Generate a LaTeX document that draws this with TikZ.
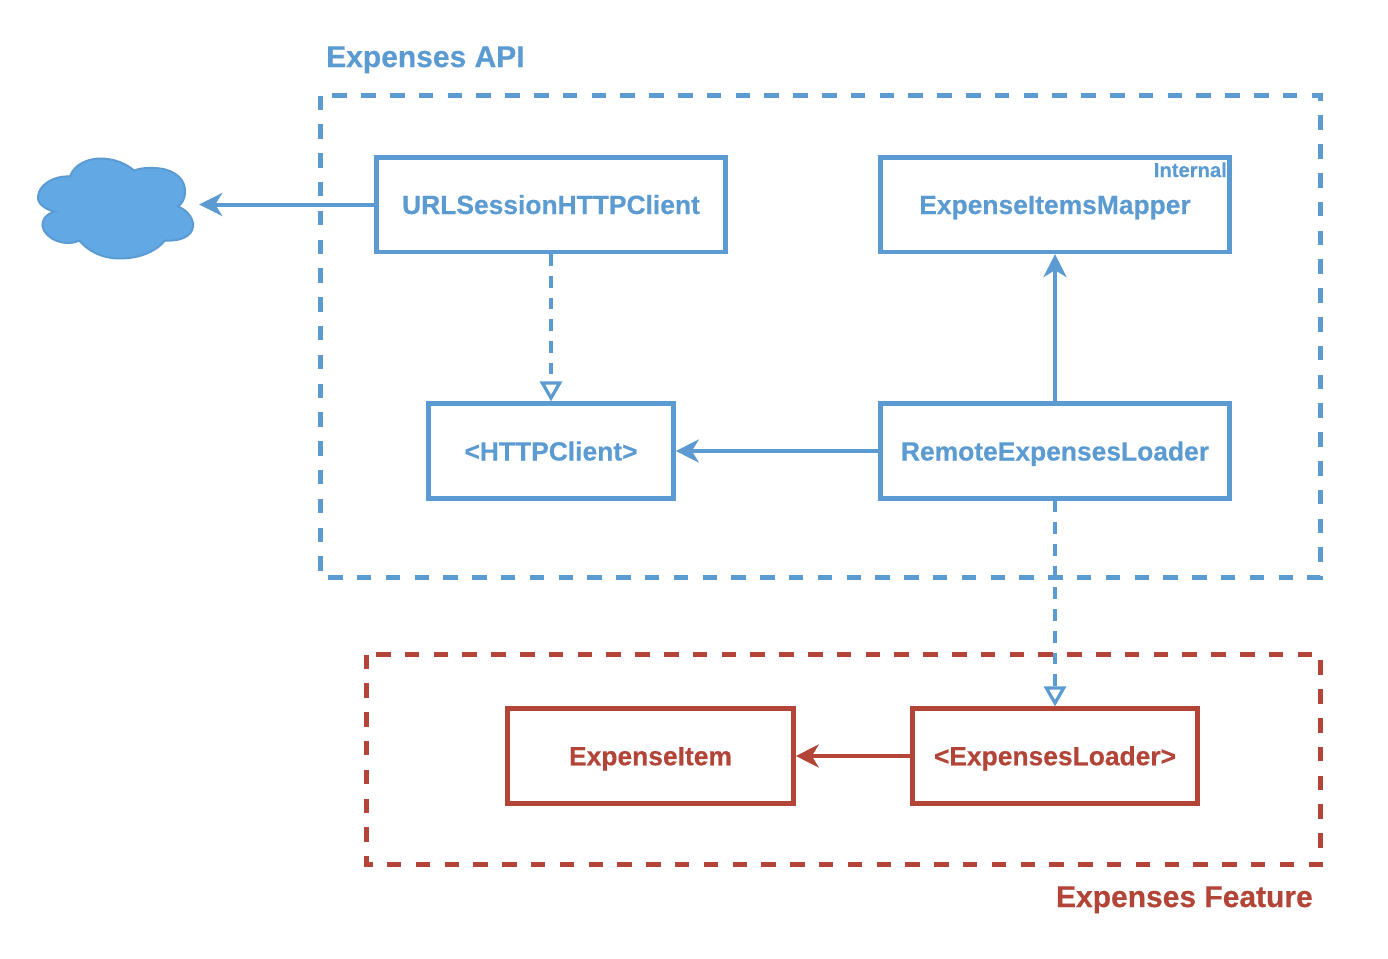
\documentclass[tikz,border=0pt]{standalone}
\usepackage{fontspec}
\setmainfont[BoldFeatures={FakeBold=0.4}]{Liberation Sans}
\usetikzlibrary{arrows.meta}
\definecolor{bl}{HTML}{5B9BD1}
\definecolor{rd}{HTML}{B34538}
\definecolor{cl}{HTML}{62A8E5}
\tikzset{
  x=1pt,y=-1pt,
  boxb/.style={draw=bl,line width=4.6pt,text=bl,font=\bfseries\fontsize{26.4}{30}\selectfont,inner sep=0pt,minimum height=94.6pt,text height=19pt,text depth=0pt},
  boxr/.style={draw=rd,line width=4.6pt,text=rd,font=\bfseries\fontsize{26.4}{30}\selectfont,inner sep=0pt,minimum height=94.6pt,text height=18.5pt,text depth=0pt},
  frameb/.style={draw=bl,line width=4.6pt,dash pattern=on 14.5pt off 14.3pt},
  framer/.style={draw=rd,line width=4.6pt,dash pattern=on 14.5pt off 14.3pt},
  solidb/.style={draw=bl,line width=4pt,-{Stealth[length=23pt,width=23pt,inset=7pt]}},
  solidr/.style={draw=rd,line width=4pt,-{Stealth[length=23pt,width=23pt,inset=7pt]}},
  realize/.style={draw=bl,line width=4pt,dash pattern=on 11.7pt off 10pt,-{Triangle[open,length=20pt,width=22pt,line width=3.2pt,fill=white]}},
  title/.style={inner sep=0pt,font=\bfseries\fontsize{30}{34}\selectfont},
}
\begin{document}
\begin{tikzpicture}
\useasboundingbox (0,0) rectangle (1388,958);
% frames
\draw[frameb] (320.5,95.5) rectangle (1320.5,577.5);
\draw[framer] (366.5,654.5) rectangle (1320.5,864.5);
\node[title,text=bl,anchor=base west] (apilabel) at (326,67) {Expenses API};
\node[title,text=rd,anchor=base east] (featlabel) at (1313,907) {Expenses Feature};
% cloud
\draw[draw=bl,line width=2pt,fill=cl]
  (70,176.5) .. controls (74,164.5) and (88,158.5) .. (100,158.5)
  .. controls (114,158.5) and (126,163.5) .. (134,170.5)
  .. controls (142,167.5) and (152,167.5) .. (160,168.5)
  .. controls (176,170.5) and (186,180.5) .. (185,192.5)
  .. controls (185,198.5) and (182,203.5) .. (178,206.5)
  .. controls (188,210.5) and (194,219.5) .. (193,226.5)
  .. controls (192,236.5) and (180,241.5) .. (165,240.5)
  .. controls (155,252.5) and (138,258.5) .. (120,258.5)
  .. controls (101,258.5) and (88,250.5) .. (79,240.5)
  .. controls (72,244.5) and (60,243.5) .. (52,238.5)
  .. controls (44,233.5) and (41,226.5) .. (43,221.5)
  .. controls (44,216.5) and (50,212.5) .. (55,211.5)
  .. controls (45,209.5) and (37,203.5) .. (38,196.5)
  .. controls (39,184.5) and (54,175.5) .. (70,176.5) -- cycle;
\node[inner sep=0pt,minimum width=172pt,minimum height=102pt] (cloud) at (113,204.5) {};
% boxes
\node[boxb,minimum width=349pt] (url) at (551,204.5) {URLSessionHTTPClient};
\node[boxb,minimum width=349pt] (mapper) at (1055,204.5) {ExpenseItemsMapper};
\node[inner sep=0pt,text=bl,font=\bfseries\fontsize{20.2}{24}\selectfont,anchor=base east] (internal) at (1227,177) {Internal};
\node[boxb,minimum width=245pt] (http) at (551,451) {<HTTPClient>};
\node[boxb,minimum width=349pt] (remote) at (1055,451) {RemoteExpensesLoader};
\node[boxr,minimum width=286pt] (item) at (650.5,756) {ExpenseItem};
\node[boxr,minimum width=285pt] (loader) at (1055,756) {<ExpensesLoader>};
% connectors
\draw[solidb] (url.west) -- (cloud.east);
\draw[realize] (url.south) -- (http.north);
\draw[solidb] (remote.west) -- (http.east);
\draw[solidb] (remote.north) -- (mapper.south);
\draw[realize] (remote.south) -- (loader.north);
\draw[solidr] (loader.west) -- (item.east);
\end{tikzpicture}
\end{document}
